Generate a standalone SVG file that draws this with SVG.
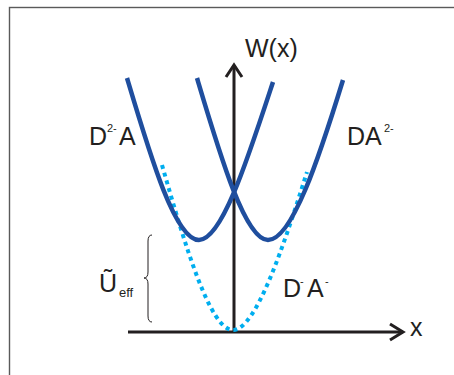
<svg xmlns="http://www.w3.org/2000/svg" width="454" height="375" viewBox="0 0 454 375">
<style>
.lbl{font-family:"Liberation Sans",Arial,sans-serif;fill:#231f20}
.big{font-size:25px}
.sup{font-size:11px}
.curve{fill:none;stroke:#1f4e9e;stroke-width:4.5;stroke-linecap:butt}
.dots{fill:none;stroke:#00aeef;stroke-width:4;stroke-dasharray:4 4}
.axis{fill:none;stroke:#231f20;stroke-width:3}
</style>
<rect x="9.5" y="7.5" width="460" height="380" fill="#fff" stroke="#5a5a5a" stroke-width="1.4"/>
<g id="axes">
<line class="axis" x1="234" y1="332" x2="234" y2="65"/>
<polyline class="axis" points="226,77 234,65 242,77"/>
<line class="axis" x1="128" y1="332" x2="403" y2="332"/>
<polyline class="axis" points="390,324 403,332 390,340"/>
<text class="lbl big" x="245" y="57">W(x)</text>
<text class="lbl big" x="410" y="336">x</text>
</g>
<g id="DminusAminus">
<path class="dots" d="M162,165 C185,245 210,330 233,330 C256,330 284,245 307,172"/>
<text class="lbl big" x="283" y="297">D<tspan class="sup" x="300" y="285">-</tspan><tspan x="307" y="297">A</tspan><tspan class="sup" x="325" y="285">-</tspan></text>
</g>
<g id="D2A">
<path class="curve" d="M127,78 C150,155 175,240 199,240 C222,240 248,158 273,82"/>
<text class="lbl big" x="89" y="145">D<tspan class="sup" x="107" y="132">2-</tspan><tspan x="119" y="145">A</tspan></text>
</g>
<g id="DA2">
<path class="curve" d="M197,78 C220,155 245,240 268,240 C292,240 319,158 343,80"/>
<text class="lbl big" x="347" y="145">DA<tspan class="sup" x="384" y="132">2-</tspan></text>
</g>
<g id="Ueff">
<path d="M152,235 Q148,235 148,241 L148,272 Q148,278 144,278 Q148,278 148,284 L148,316 Q148,322 152,322" fill="none" stroke="#231f20" stroke-width="1"/>
<text class="lbl big" x="99" y="292">Ũ<tspan x="119" y="297" style="font-size:13px">eff</tspan></text>
</g>
</svg>
